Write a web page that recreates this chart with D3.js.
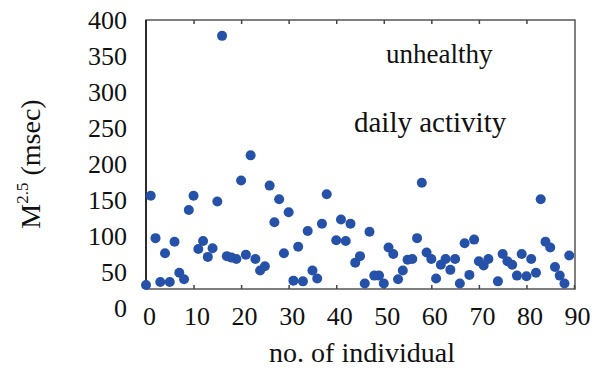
<!DOCTYPE html>
<html>
<head>
<meta charset="utf-8">
<script src="https://cdn.jsdelivr.net/npm/d3@7"></script>
<style>
  body { margin: 0; background: #fff; }
  svg text { font-family: "Liberation Serif", "Times New Roman", Times, serif !important; fill: #111; }
</style>
</head>
<body>
<script>
// individual number and M^2.5 (msec)
const individual = [0, 1, 2, 3, 4, 5, 6, 7, 8, 9, 10, 11, 12, 13, 14, 15, 16, 17, 18, 19,
  20, 21, 22, 23, 24, 25, 26, 27, 28, 29, 30, 31, 32, 33, 34, 35, 36, 37, 38, 40,
  41, 42, 43, 44, 45, 46, 47, 48, 49, 50, 51, 52, 53, 54, 55, 56, 57, 58, 59, 60,
  61, 62, 63, 64, 65, 66, 67, 68, 69, 70, 71, 72, 74, 75, 76, 77, 78, 79, 80, 81,
  82, 83, 84, 85, 86, 87, 88, 89];
const m25 = [32, 156, 97, 36, 76, 36, 92, 49, 40, 136, 156, 82, 93, 71, 83, 148, 378, 72, 70, 68,
  177, 74, 212, 68, 52, 58, 170, 119, 151, 76, 133, 38, 85, 37, 107, 52, 41, 117, 158, 94,
  123, 93, 117, 63, 72, 34, 106, 45, 45, 34, 84, 75, 40, 52, 67, 68, 97, 174, 77, 68,
  41, 60, 68, 53, 68, 34, 90, 46, 95, 65, 59, 68, 37, 75, 65, 60, 45, 75, 44, 68,
  49, 151, 92, 84, 57, 45, 34, 73];
const xTicks = [0, 10, 20, 30, 40, 50, 60, 70, 80, 90];
const yTicks = [0, 50, 100, 150, 200, 250, 300, 350, 400];

const width = 595, height = 371;
const plotLeft = 146, plotRight = 574, plotTop = 20, plotBottom = 289;

const svg = d3.select("body").append("svg")
  .attr("width", width)
  .attr("height", height);

const x = d3.scaleLinear().domain([0, 90]).range([plotLeft, plotRight]);
// tick labels run a bit below the frame in the original
const y = d3.scaleLinear().domain([0, 400]).range([308, plotTop]);

// frame
svg.append("rect")
  .attr("x", plotLeft).attr("y", plotTop)
  .attr("width", plotRight - plotLeft + 1)
  .attr("height", plotBottom - plotTop)
  .attr("fill", "none")
  .attr("stroke", "#555")
  .attr("stroke-width", 1.5);
svg.append("line")
  .attr("x1", plotLeft).attr("x2", plotLeft)
  .attr("y1", plotTop).attr("y2", plotBottom)
  .attr("stroke", "#111").attr("stroke-width", 1.5);

// bottom axis, ticks pointing inward
const xAxis = svg.append("g")
  .attr("transform", `translate(0,${plotBottom})`)
  .call(d3.axisBottom(x).tickValues(xTicks).tickSizeInner(-4).tickSizeOuter(0).tickPadding(18));
xAxis.select(".domain").remove();
xAxis.selectAll(".tick line").attr("stroke", "#444").attr("stroke-width", 1.5);
xAxis.selectAll(".tick text")
  .attr("font-size", 26)
  .attr("dx", 3);

// top ticks
const xTop = svg.append("g")
  .attr("transform", `translate(0,${plotTop})`)
  .call(d3.axisTop(x).tickValues(xTicks.slice(1, -1)).tickSize(-4).tickFormat(""));
xTop.select(".domain").remove();
xTop.selectAll(".tick line").attr("stroke", "#444").attr("stroke-width", 1.5);

// left labels, no tick marks
const yAxis = svg.append("g")
  .attr("transform", "translate(130,0)")
  .call(d3.axisLeft(y).tickValues(yTicks).tickSize(0).tickPadding(3));
yAxis.select(".domain").remove();
yAxis.selectAll(".tick text")
  .attr("font-size", 26);

// points
svg.append("g").selectAll("circle")
  .data(individual.map((d, i) => [d, m25[i]]))
  .enter().append("circle")
  .attr("cx", d => x(d[0]))
  .attr("cy", d => y(d[1]))
  .attr("r", 5)
  .attr("fill", "#2552a8");

// annotations
svg.append("text")
  .attr("x", 386).attr("y", 63)
  .attr("font-size", 27)
  .text("unhealthy");
svg.append("text")
  .attr("x", 354).attr("y", 132)
  .attr("font-size", 29)
  .text("daily activity");

// axis titles
svg.append("text")
  .attr("x", 362).attr("y", 362)
  .attr("text-anchor", "middle")
  .attr("font-size", 28)
  .text("no. of individual");

const yTitle = svg.append("text")
  .attr("transform", "translate(40,164) rotate(-90)")
  .attr("text-anchor", "middle")
  .attr("font-size", 28);
yTitle.append("tspan").text("M");
yTitle.append("tspan").attr("font-size", 17).attr("dy", -12).text("2.5");
yTitle.append("tspan").attr("dy", 12).text(" (msec)");
</script>
</body>
</html>
